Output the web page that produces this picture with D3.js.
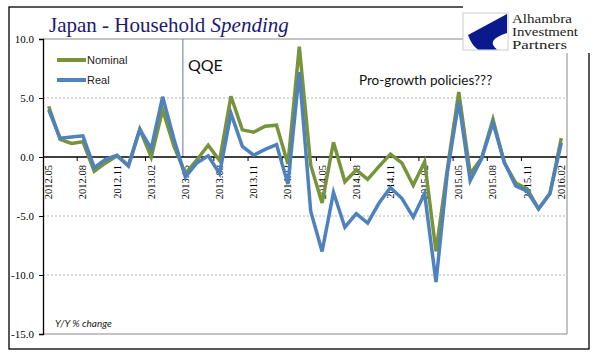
<!DOCTYPE html>
<html><head><meta charset="utf-8">
<script src="https://cdn.jsdelivr.net/npm/d3@7"></script>
<style>
html,body{margin:0;padding:0;background:#fff;}
svg{display:block;}
</style></head>
<body>
<svg id="chart" width="596" height="361"></svg>
<script>
const categories = ["2012.05","2012.06","2012.07","2012.08","2012.09","2012.10","2012.11","2012.12",
"2013.01","2013.02","2013.03","2013.04","2013.05","2013.06","2013.07","2013.08","2013.09","2013.10","2013.11","2013.12",
"2014.01","2014.02","2014.03","2014.04","2014.05","2014.06","2014.07","2014.08","2014.09","2014.10","2014.11","2014.12",
"2015.01","2015.02","2015.03","2015.04","2015.05","2015.06","2015.07","2015.08","2015.09","2015.10","2015.11","2015.12",
"2016.01","2016.02"];
const nominal = [4.3,1.5,1.15,1.3,-1.2,-0.5,0.1,-0.75,2.35,0.0,4.0,0.9,-1.4,-0.25,1.0,-0.3,5.15,2.3,2.1,2.6,
2.7,-0.6,9.35,-0.7,-3.9,1.25,-2.1,-1.1,-1.9,-0.8,0.25,-0.5,-2.4,-0.4,-8.0,-1.0,5.5,-1.4,-0.1,3.2,
-0.5,-2.2,-2.7,-4.4,-3.1,1.6];
const real = [4.0,1.6,1.7,1.8,-0.9,-0.2,0.15,-0.75,2.35,0.7,5.1,1.5,-1.7,-0.5,0.1,-1.4,3.7,0.9,0.15,0.65,
1.05,-2.3,7.2,-4.6,-8.0,-3.0,-5.95,-4.8,-5.6,-3.9,-2.6,-3.5,-5.1,-3.1,-10.6,-1.3,4.7,-2.0,-0.15,2.9,
-0.45,-2.45,-2.9,-4.4,-3.1,1.2];
const yTicks = [-15,-10,-5,0,5,10];
const gridValues = [5,-5,-10];
const tickLabelEvery = 3;
const seriesNames = ["Nominal","Real"];
const seriesColors = ["#77933C","#4F81BD"];
const qqeCategory = "2013.05";
const logoLines = ["Alhambra","Investment","Partners"];

const svg = d3.select("#chart");
const L=43, R=567, T=39, B=334;
const x = d3.scaleBand().domain(categories).range([L,R]).padding(0);
const y = d3.scaleLinear().domain([-15,10]).range([B,T]);
const fmt = v => d3.format(".1f")(v).replace("\u2212","-");

// outer frame
svg.append("rect").attr("x",9).attr("y",7).attr("width",580).attr("height",342)
  .attr("fill","none").attr("stroke","#000").attr("stroke-width",1.3);

// gridlines
svg.append("g").selectAll("line").data(gridValues).join("line")
  .attr("x1",L).attr("x2",R).attr("y1",d=>y(d)).attr("y2",d=>y(d))
  .attr("stroke","#a0a0a0").attr("stroke-width",0.8).attr("stroke-dasharray","2,2");

// plot border (top, right, bottom)
svg.append("path").attr("d",`M${L},${T}H${R}V${B}H${L}`).attr("fill","none")
  .attr("stroke","#888").attr("stroke-width",1);

// QQE line
const qx = x(qqeCategory) + x.bandwidth()*0.28;
svg.append("line").attr("x1",qx).attr("x2",qx).attr("y1",T).attr("y2",y(0))
  .attr("stroke","#5878a8").attr("stroke-width",1);

// y axis
const yAxis = svg.append("g").attr("transform",`translate(${L},0)`)
  .call(d3.axisLeft(y).tickValues(yTicks).tickFormat(fmt).tickSize(4).tickPadding(5));
yAxis.select(".domain").attr("stroke","#000").attr("stroke-width",1.3);
yAxis.selectAll(".tick line").attr("stroke","#000");
yAxis.selectAll("text").attr("font-family","'Liberation Serif', serif").attr("font-size",11).attr("fill","#000");

// x axis (zero line)
const zeroY = y(0);
svg.append("line").attr("x1",L).attr("x2",R).attr("y1",zeroY).attr("y2",zeroY)
  .attr("stroke","#000").attr("stroke-width",1.3);
const labelCats = categories.filter((c,i)=>i%tickLabelEvery===0);
svg.append("g").selectAll("line").data(labelCats.slice(1)).join("line")
  .attr("x1",d=>x(d)).attr("x2",d=>x(d)).attr("y1",zeroY).attr("y2",zeroY+4)
  .attr("stroke","#000").attr("stroke-width",1);
svg.append("g").selectAll("text").data(labelCats).join("text")
  .attr("transform",d=>`translate(${x(d)+x.bandwidth()/2+3.5},${zeroY+8}) rotate(-90)`)
  .attr("text-anchor","end")
  .attr("font-family","'Liberation Serif', serif").attr("font-size",10.5).attr("fill","#000")
  .text(d=>d);

// lines
const line = d3.line().x((d,i)=>x(categories[i])+x.bandwidth()/2).y(d=>y(d)).curve(d3.curveLinear);
[nominal, real].forEach((s,k)=>{
  svg.append("path").datum(s).attr("d",line).attr("fill","none")
    .attr("stroke",seriesColors[k]).attr("stroke-width",3.5).attr("stroke-linejoin","miter").attr("stroke-miterlimit",4);
});

// legend
seriesNames.forEach((n,k)=>{
  const ly = 60 + k*20;
  svg.append("line").attr("x1",57).attr("x2",86).attr("y1",ly).attr("y2",ly)
    .attr("stroke",seriesColors[k]).attr("stroke-width",4);
  svg.append("text").attr("x",87).attr("y",ly+4).text(n)
    .attr("font-family","'Liberation Sans', Arial, sans-serif").attr("font-size",11).attr("fill","#222");
});

// annotations
svg.append("text").attr("x",188).attr("y",71).text("QQE")
  .attr("font-family","Lato, sans-serif").attr("font-size",16).attr("fill","#111");
svg.append("text").attr("x",359).attr("y",85).text("Pro-growth policies???")
  .attr("font-family","Lato, sans-serif").attr("font-size",13.5).attr("fill","#111");
svg.append("text").attr("x",55).attr("y",327).text("Y/Y % change")
  .attr("font-family","Lato, sans-serif").attr("font-style","italic").attr("font-size",10).attr("fill","#222");

// logo area (white cover)
svg.append("rect").attr("x",463).attr("y",0).attr("width",133).attr("height",53).attr("fill","#fff");
const lg = svg.append("g").attr("transform","translate(463,13)");
lg.append("rect").attr("width",45).attr("height",37).attr("fill","#fff").attr("stroke","#ccc").attr("stroke-width",1);
lg.append("path").attr("d","M44,1 L5,22 Q9,33 15,36.5 L34,36.5 Q22,27 44,20 Z").attr("fill","#0a1a8c");
const logoWidths = [60, 66, 55];
logoLines.forEach((t,i)=>{
  svg.append("text").attr("x",512).attr("y",22.5+i*13.3).text(t)
    .attr("font-family","'Liberation Serif', serif").attr("font-size",11.5)
    .attr("textLength", logoWidths[i]).attr("lengthAdjust","spacingAndGlyphs")
    .attr("fill","#222");
});

// title
const title = svg.append("text").attr("x",49).attr("y",32)
  .attr("font-family","'Liberation Serif', serif").attr("font-size",21).attr("fill","#1a1a72");
title.append("tspan").text("Japan - Household ");
title.append("tspan").attr("font-style","italic").text("Spending");
</script>
</body></html>
